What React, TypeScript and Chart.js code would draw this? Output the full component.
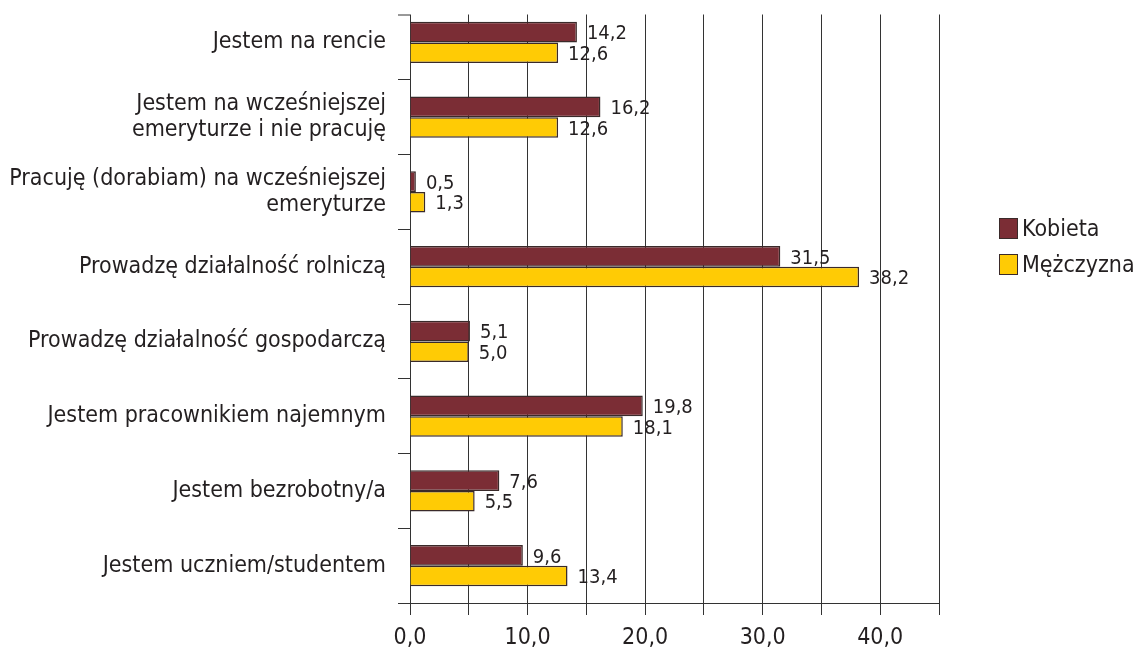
import React, { useEffect, useRef } from "react";
import { Chart, registerables } from "chart.js";

Chart.register(...registerables);

const categories: string[][] = [
  ["Jestem na rencie"],
  ["Jestem na wcześniejszej", "emeryturze i nie pracuję"],
  ["Pracuję (dorabiam) na wcześniejszej", "emeryturze"],
  ["Prowadzę działalność rolniczą"],
  ["Prowadzę działalność gospodarczą"],
  ["Jestem pracownikiem najemnym"],
  ["Jestem bezrobotny/a"],
  ["Jestem uczniem/studentem"],
];
const seriesNames = ["Kobieta", "Mężczyzna"];
const kobieta = [14.2, 16.2, 0.5, 31.5, 5.1, 19.8, 7.6, 9.6];
const mezczyzna = [12.6, 12.6, 1.3, 38.2, 5.0, 18.1, 5.5, 13.4];
const xMin = 0;
const xMax = 45;
const xStep = 5;

const FONT = "'Liberation Sans Narrow', 'DejaVu Sans Condensed', 'Arial Narrow', sans-serif";
const TEXT = "#231f20";
const LINE = "#333333";
const COLORS = ["#7b2d35", "#ffcb05"];
const fmt = (v: number) => v.toFixed(1).replace(".", ",");

const topTrim = {
  id: "topTrim",
  beforeDatasetsDraw(chart: any) {
    const { ctx, chartArea } = chart;
    const cut = chartArea.top + 10;
    ctx.save();
    ctx.fillStyle = "#ffffff";
    ctx.fillRect(chartArea.left - 16, 0, chartArea.right - chartArea.left + 20, cut - 0.5);
    ctx.strokeStyle = LINE;
    ctx.lineWidth = 1;
    ctx.beginPath();
    ctx.moveTo(chartArea.left - 12, cut);
    ctx.lineTo(chartArea.left, cut);
    ctx.stroke();
    ctx.restore();
  },
};

const valueLabels = {
  id: "valueLabels",
  afterDatasetsDraw(chart: any) {
    const ctx = chart.ctx;
    ctx.save();
    ctx.font = `20px ${FONT}`;
    ctx.fillStyle = TEXT;
    ctx.textAlign = "left";
    ctx.textBaseline = "middle";
    chart.data.datasets.forEach((ds: any, di: number) => {
      const meta = chart.getDatasetMeta(di);
      meta.data.forEach((el: any, i: number) => {
        ctx.fillText(fmt(ds.data[i]), el.x + 10, el.y + 2);
      });
    });
    ctx.restore();
  },
};

export default function App() {
  const ref = useRef<HTMLCanvasElement | null>(null);
  useEffect(() => {
    if (!ref.current) return;
    const chart = new Chart(ref.current, {
      type: "bar",
      data: {
        labels: categories as any,
        datasets: [
          {
            label: seriesNames[0],
            data: kobieta,
            backgroundColor: COLORS[0],
            borderColor: "#3a2a2a",
            borderWidth: 1.5,
            categoryPercentage: 0.55,
            barPercentage: 1,
          },
          {
            label: seriesNames[1],
            data: mezczyzna,
            backgroundColor: COLORS[1],
            borderColor: "#3a2a2a",
            borderWidth: 1.5,
            categoryPercentage: 0.55,
            barPercentage: 1,
          },
        ],
      },
      options: {
        indexAxis: "y",
        responsive: false,
        animation: false,
        layout: { padding: { top: 5, right: 198, left: 0, bottom: 0 } },
        plugins: { legend: { display: false }, tooltip: { enabled: false } },
        scales: {
          x: {
            min: xMin,
            max: xMax,
            afterFit: (s: any) => {
              s.height = 52;
              s.paddingLeft = 0;
              s.paddingRight = 0;
            },
            ticks: {
              stepSize: xStep,
              autoSkip: false,
              maxRotation: 0,
              padding: 9,
              color: TEXT,
              font: { family: FONT, size: 23 },
              callback: (v: any) => (Number(v) % 10 === 0 ? fmt(Number(v)) : ""),
            },
            grid: { color: LINE, lineWidth: 1, tickLength: 12, drawOnChartArea: true },
            border: { color: LINE, width: 1 },
          },
          y: {
            afterFit: (s: any) => {
              s.width = 410;
              s.paddingTop = 0;
              s.paddingBottom = 0;
            },
            ticks: {
              padding: 12,
              color: TEXT,
              font: { family: FONT, size: 23, lineHeight: 1.13 },
            },
            grid: { color: LINE, lineWidth: 1, tickLength: 12, drawOnChartArea: false, offset: true },
            border: { color: LINE, width: 1 },
          },
        },
      },
      plugins: [topTrim, valueLabels],
    });
    return () => chart.destroy();
  }, []);

  const sw = (c: string) => ({
    display: "inline-block",
    width: 17,
    height: 19,
    background: c,
    border: "1.5px solid #3a2a2a",
    marginRight: 4,
    verticalAlign: "middle",
  });

  return (
    <div style={{ position: "absolute", left: 0, top: 0, width: 1137, height: 655, background: "#fff" }}>
      <canvas ref={ref} width={1137} height={655} style={{ display: "block" }} />
      <div
        style={{
          position: "absolute",
          left: 999,
          top: 210,
          fontFamily: FONT,
          fontSize: 23,
          color: TEXT,
          lineHeight: "35px",
        }}
      >
        {seriesNames.map((n, i) => (
          <div key={n} style={{ whiteSpace: "nowrap" }}>
            <span style={sw(COLORS[i])} />
            <span style={{ verticalAlign: "middle" }}>{n}</span>
          </div>
        ))}
      </div>
    </div>
  );
}
